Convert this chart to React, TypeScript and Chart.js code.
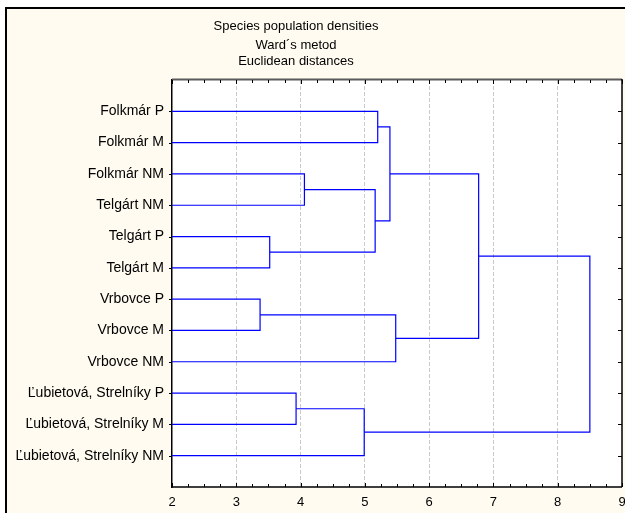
import React, { useEffect, useRef } from "react";
import { Chart, registerables } from "chart.js";

Chart.register(...registerables);

const TITLE_LINES = ["Species population densities", "Ward´s metod", "Euclidean distances"];

const LEAVES = [
  "Folkmár P",
  "Folkmár M",
  "Folkmár NM",
  "Telgárt NM",
  "Telgárt P",
  "Telgárt M",
  "Vrbovce P",
  "Vrbovce M",
  "Vrbovce NM",
  "Ľubietová, Strelníky P",
  "Ľubietová, Strelníky M",
  "Ľubietová, Strelníky NM",
];

// Linkage: non-negative = leaf index, negative -(k+1) = merge k
const MERGE_A = [0, 2, 4, -2, -1, 6, -6, -5, 9, -9, -8];
const MERGE_B = [1, 3, 5, -3, -4, 7, 8, -7, 10, 11, -10];
const MERGE_H = [5.2, 4.06, 3.52, 5.16, 5.39, 3.37, 5.48, 6.77, 3.93, 4.99, 8.5];

const X_MIN = 2;
const X_MAX = 9;
const X_TICKS = [2, 3, 4, 5, 6, 7, 8, 9];

const BLUE = "#0000ff";
const CREAM = "#fffbf0";
const FONT = "'Liberation Sans', Arial, sans-serif";

function nodePos(id: number, cache: { x: number; y: number }[]): { x: number; y: number } {
  if (id >= 0) return { x: X_MIN, y: id + 1 };
  return cache[-id - 1];
}

function buildDatasets() {
  const cache: { x: number; y: number }[] = [];
  const sets: any[] = [];
  for (let k = 0; k < MERGE_H.length; k++) {
    const a = nodePos(MERGE_A[k], cache);
    const b = nodePos(MERGE_B[k], cache);
    const h = MERGE_H[k];
    cache[k] = { x: h, y: (a.y + b.y) / 2 };
    sets.push({
      data: [
        { x: a.x, y: a.y },
        { x: h, y: a.y },
        { x: h, y: b.y },
        { x: b.x, y: b.y },
      ],
      showLine: true,
      borderColor: BLUE,
      backgroundColor: BLUE,
      borderWidth: 1.2,
      pointRadius: 0,
      tension: 0,
      clip: false,
    });
  }
  return sets;
}

const framePlugin = {
  id: "framePlugin",
  beforeDraw(chart: any) {
    const { ctx, width, height, chartArea } = chart;
    ctx.save();
    ctx.fillStyle = "#ffffff";
    ctx.fillRect(0, 0, width, height);
    ctx.fillStyle = CREAM;
    ctx.fillRect(5, 7, width, height);
    ctx.fillStyle = "#000000";
    ctx.fillRect(5, 7, 2, height);
    ctx.fillRect(5, 7, width, 2);
    ctx.fillStyle = "#ffffff";
    ctx.fillRect(chartArea.left, chartArea.top, chartArea.right - chartArea.left, chartArea.bottom - chartArea.top);
    // title
    ctx.fillStyle = "#000000";
    ctx.font = "13px " + FONT;
    ctx.textAlign = "center";
    ctx.textBaseline = "middle";
    const ys = [26, 45, 61];
    TITLE_LINES.forEach((t, i) => ctx.fillText(t, 296, ys[i]));
    ctx.restore();
  },
  afterDatasetsDraw(chart: any) {
    const { ctx, chartArea, scales } = chart;
    const xs = scales.x;
    const ysc = scales.y;
    ctx.save();
    // top border
    ctx.strokeStyle = "#5a5a5a";
    ctx.lineWidth = 2;
    ctx.beginPath();
    ctx.moveTo(chartArea.left, chartArea.top - 0.5);
    ctx.lineTo(chartArea.right, chartArea.top - 0.5);
    ctx.stroke();
    // right border and bottom axis
    ctx.strokeStyle = "#000000";
    ctx.lineWidth = 1.5;
    ctx.beginPath();
    ctx.moveTo(chartArea.right, chartArea.top - 1);
    ctx.lineTo(chartArea.right, chartArea.bottom);
    ctx.moveTo(chartArea.left, chartArea.bottom);
    ctx.lineTo(chartArea.right, chartArea.bottom);
    ctx.stroke();
    // minor/major ticks on top & bottom
    ctx.lineWidth = 1;
    ctx.strokeStyle = "#000000";
    for (let v = X_MIN; v <= X_MAX + 1e-9; v += 0.25) {
      const px = Math.round(xs.getPixelForValue(v)) + 0.5;
      const len = Math.abs(v - Math.round(v)) < 1e-9 ? 4 : 3;
      ctx.beginPath();
      ctx.moveTo(px, chartArea.bottom);
      ctx.lineTo(px, chartArea.bottom - len);
      ctx.moveTo(px, chartArea.top);
      ctx.lineTo(px, chartArea.top + len);
      ctx.stroke();
    }
    // leaf ticks on right & left border
    for (let i = 0; i < LEAVES.length; i++) {
      const py = Math.round(ysc.getPixelForValue(i + 1)) + 0.5;
      ctx.beginPath();
      ctx.moveTo(chartArea.right, py);
      ctx.lineTo(chartArea.right - 4, py);
      ctx.moveTo(chartArea.left, py);
      ctx.lineTo(chartArea.left - 3, py);
      ctx.stroke();
    }
    ctx.restore();
  },
};

export default function App() {
  const ref = useRef<HTMLCanvasElement | null>(null);
  useEffect(() => {
    document.body.style.margin = "0";
    if (!ref.current) return;
    const chart = new Chart(ref.current, {
      type: "scatter",
      data: { datasets: buildDatasets() },
      options: {
        animation: false,
        responsive: false,
        devicePixelRatio: 1,
        layout: { padding: { top: 80, left: 0, right: 3, bottom: 0 } },
        plugins: {
          legend: { display: false },
          title: { display: false },
          tooltip: { enabled: false },
        },
        scales: {
          x: {
            type: "linear",
            min: X_MIN,
            max: X_MAX,
            afterBuildTicks: (scale: any) => {
              scale.ticks = X_TICKS.map((v) => ({ value: v }));
            },
            afterFit: (scale: any) => {
              scale.height = 26;
              scale.paddingLeft = 0;
              scale.paddingRight = 0;
            },
            ticks: {
              color: "#000000",
              font: { family: FONT, size: 13 },
              padding: 8,
              maxRotation: 0,
              autoSkip: false,
            },
            grid: {
              drawTicks: false,
              tickLength: 0,
              lineWidth: 1,
              color: (c: any) =>
                c.tick && (c.tick.value === X_MIN || c.tick.value === X_MAX) ? "rgba(0,0,0,0)" : "#cacaca",
            },
            border: { display: false, dash: [4, 2] },
          },
          y: {
            type: "linear",
            min: 0,
            max: LEAVES.length + 1,
            reverse: true,
            afterBuildTicks: (scale: any) => {
              scale.ticks = LEAVES.map((_, i) => ({ value: i + 1 }));
            },
            afterFit: (scale: any) => {
              scale.width = 172;
              scale.paddingTop = 0;
              scale.paddingBottom = 0;
            },
            ticks: {
              color: "#000000",
              font: { family: FONT, size: 14 },
              padding: 8,
              autoSkip: false,
              callback: (v: any) => LEAVES[Number(v) - 1] ?? "",
            },
            grid: { display: false, drawTicks: false },
            border: { display: true, color: "#000000", width: 1.5 },
          },
        },
      },
      plugins: [framePlugin],
    });
    return () => chart.destroy();
  }, []);
  return (
    <div style={{ width: 625, height: 513 }}>
      <canvas ref={ref} width={625} height={513} style={{ width: 625, height: 513, display: "block" }} />
    </div>
  );
}
